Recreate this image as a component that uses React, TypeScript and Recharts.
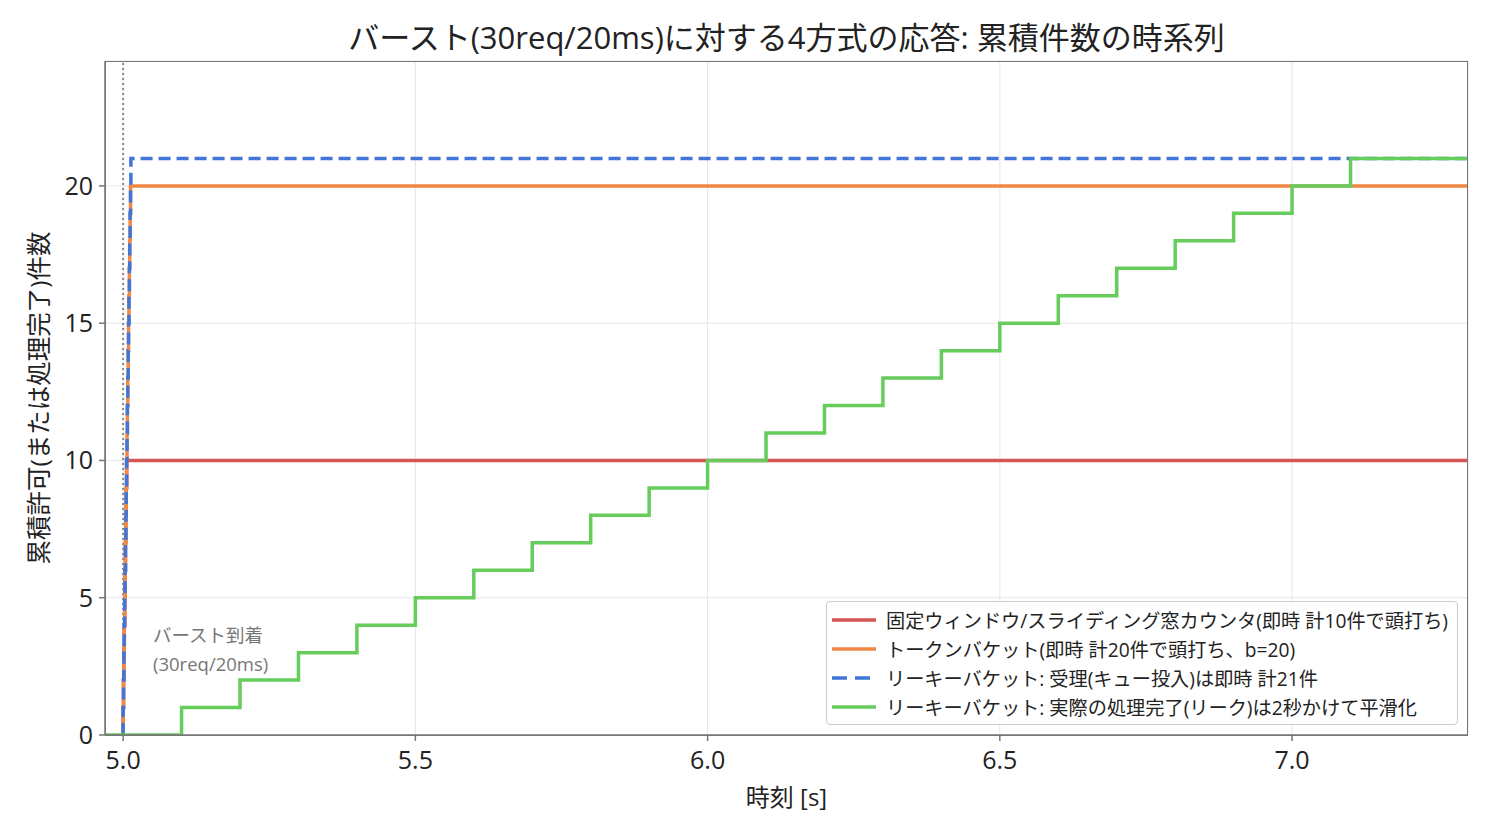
import React from 'react'
import {
  LineChart, Line, XAxis, YAxis, CartesianGrid, ReferenceLine,
} from 'recharts'

const FONT = '"Open Sans", "Noto Sans CJK JP", sans-serif'

// burst arrivals: 30 req over 20ms starting at t=5.0
const burstTimes = [
  5.0, 5.0007, 5.0013, 5.002, 5.0027, 5.0033, 5.004, 5.0047, 5.0053, 5.006,
  5.0067, 5.0073, 5.008, 5.0087, 5.0093, 5.01, 5.0107, 5.0113, 5.012, 5.0127,
  5.0133,
]
const fixedCounts = [1, 2, 3, 4, 5, 6, 7, 8, 9, 10]
const tokenCounts = [1, 2, 3, 4, 5, 6, 7, 8, 9, 10, 11, 12, 13, 14, 15, 16, 17, 18, 19, 20]
const leakyAcceptCounts = [1, 2, 3, 4, 5, 6, 7, 8, 9, 10, 11, 12, 13, 14, 15, 16, 17, 18, 19, 20, 21]
const leakDoneTimes = [
  5.1, 5.2, 5.3, 5.4, 5.5, 5.6, 5.7, 5.8, 5.9, 6.0,
  6.1, 6.2, 6.3, 6.4, 6.5, 6.6, 6.7, 6.8, 6.9, 7.0, 7.1,
]
const leakDoneCounts = [1, 2, 3, 4, 5, 6, 7, 8, 9, 10, 11, 12, 13, 14, 15, 16, 17, 18, 19, 20, 21]

const xTicks = [5.0, 5.5, 6.0, 6.5, 7.0]
const yTicks = [0, 5, 10, 15, 20]
const T_START = 4.969
const T_END = 7.301

const series = [
  { name: '固定ウィンドウ/スライディング窓カウンタ(即時 計10件で頭打ち)', color: '#d65555', dash: '' },
  { name: 'トークンバケット(即時 計20件で頭打ち、b=20)', color: '#ef8844', dash: '' },
  { name: 'リーキーバケット: 受理(キュー投入)は即時 計21件', color: '#3f76d8', dash: '12 6' },
  { name: 'リーキーバケット: 実際の処理完了(リーク)は2秒かけて平滑化', color: '#66cc5c', dash: '' },
]

function cumulative(times: number[], counts: number[]) {
  const pts = [{ t: times[0], v: 0 }]
  counts.forEach((c, i) => pts.push({ t: times[i], v: c }))
  pts.push({ t: T_END, v: counts[counts.length - 1] })
  return pts
}

const fixedData = cumulative(burstTimes, fixedCounts)
const tokenData = cumulative(burstTimes, tokenCounts)
const leakyData = cumulative(burstTimes, leakyAcceptCounts)
const leakData = [{ t: T_START, v: 0 }, ...cumulative(leakDoneTimes, leakDoneCounts).slice(1)]

function LegendBox() {
  return (
    <div style={{
      position: 'absolute', left: 826, top: 601, width: 632, height: 124, boxSizing: 'border-box',
      border: '1.5px solid #cccccc', borderRadius: 4, background: 'rgba(255,255,255,0.9)',
      padding: '3px 0 0 5px', fontSize: 19.2, color: '#222', whiteSpace: 'nowrap',
    }}>
      {series.map((s) => (
        <div key={s.name} style={{ display: 'flex', alignItems: 'center', height: 29 }}>
          <svg width={44} height={10} style={{ marginRight: 10 }}>
            <line x1={0} y1={5} x2={44} y2={5} stroke={s.color} strokeWidth={3.5}
              strokeDasharray={s.dash ? '15 8' : undefined} />
          </svg>
          <span>{s.name}</span>
        </div>
      ))}
    </div>
  )
}

export default function App() {
  return (
    <div style={{ position: 'absolute', left: 0, top: 0, width: 1491, height: 831, background: '#fff', fontFamily: FONT }}>
      <div style={{ position: 'absolute', left: 105, width: 1363, top: 14, textAlign: 'center', fontSize: 31, lineHeight: '46px', color: '#222', whiteSpace: 'nowrap' }}>
        バースト(30req/20ms)に対する4方式の応答: 累積件数の時系列
      </div>
      <LineChart width={1491} height={831} margin={{ top: 61, right: 23, bottom: 56, left: 35 }}>
        <CartesianGrid stroke="#e6e6e6" strokeWidth={1} />
        <XAxis
          type="number" dataKey="t" domain={[T_START, T_END]} ticks={xTicks} allowDataOverflow
          tickFormatter={(v: number) => v.toFixed(1)} height={40}
          tick={{ fill: '#222', fontSize: 25, fontFamily: FONT }} tickSize={6}
          stroke="#777" strokeWidth={1.5} tickMargin={10}
        />
        <YAxis
          type="number" domain={[0, 24.55]} ticks={yTicks} allowDataOverflow width={70}
          tick={{ fill: '#222', fontSize: 25, fontFamily: FONT }} tickSize={6}
          stroke="#777" strokeWidth={1.5} tickMargin={6}
        />
        <ReferenceLine x={5.0} stroke="#888" strokeWidth={2} strokeDasharray="2 3" />
        <Line data={fixedData} dataKey="v" type="stepAfter" stroke={series[0].color} strokeWidth={3.5}
          dot={false} isAnimationActive={false} name={series[0].name} />
        <Line data={tokenData} dataKey="v" type="stepAfter" stroke={series[1].color} strokeWidth={3.5}
          dot={false} isAnimationActive={false} name={series[1].name} />
        <Line data={leakyData} dataKey="v" type="stepAfter" stroke={series[2].color} strokeWidth={3.5}
          strokeDasharray="12 6" dot={false} isAnimationActive={false} name={series[2].name} />
        <Line data={leakData} dataKey="v" type="stepAfter" stroke={series[3].color} strokeWidth={3.5}
          dot={false} isAnimationActive={false} name={series[3].name} />
      </LineChart>
      <div style={{ position: 'absolute', left: 105, top: 61, width: 1363, height: 675, border: '1.5px solid #777', boxSizing: 'border-box', pointerEvents: 'none' }} />
      <div style={{ position: 'absolute', left: 153, top: 620, fontSize: 18.5, color: '#777', lineHeight: '29px' }}>
        バースト到着<br />(30req/20ms)
      </div>
      <LegendBox />
      <div style={{ position: 'absolute', left: 105, width: 1363, top: 778, textAlign: 'center', fontSize: 24, color: '#222' }}>
        時刻 [s]
      </div>
      <div style={{
        position: 'absolute', left: 37, top: 398, transform: 'translate(-50%, -50%) rotate(-90deg)',
        fontSize: 24.5, color: '#222', whiteSpace: 'nowrap',
      }}>
        累積許可(または処理完了)件数
      </div>
    </div>
  )
}
